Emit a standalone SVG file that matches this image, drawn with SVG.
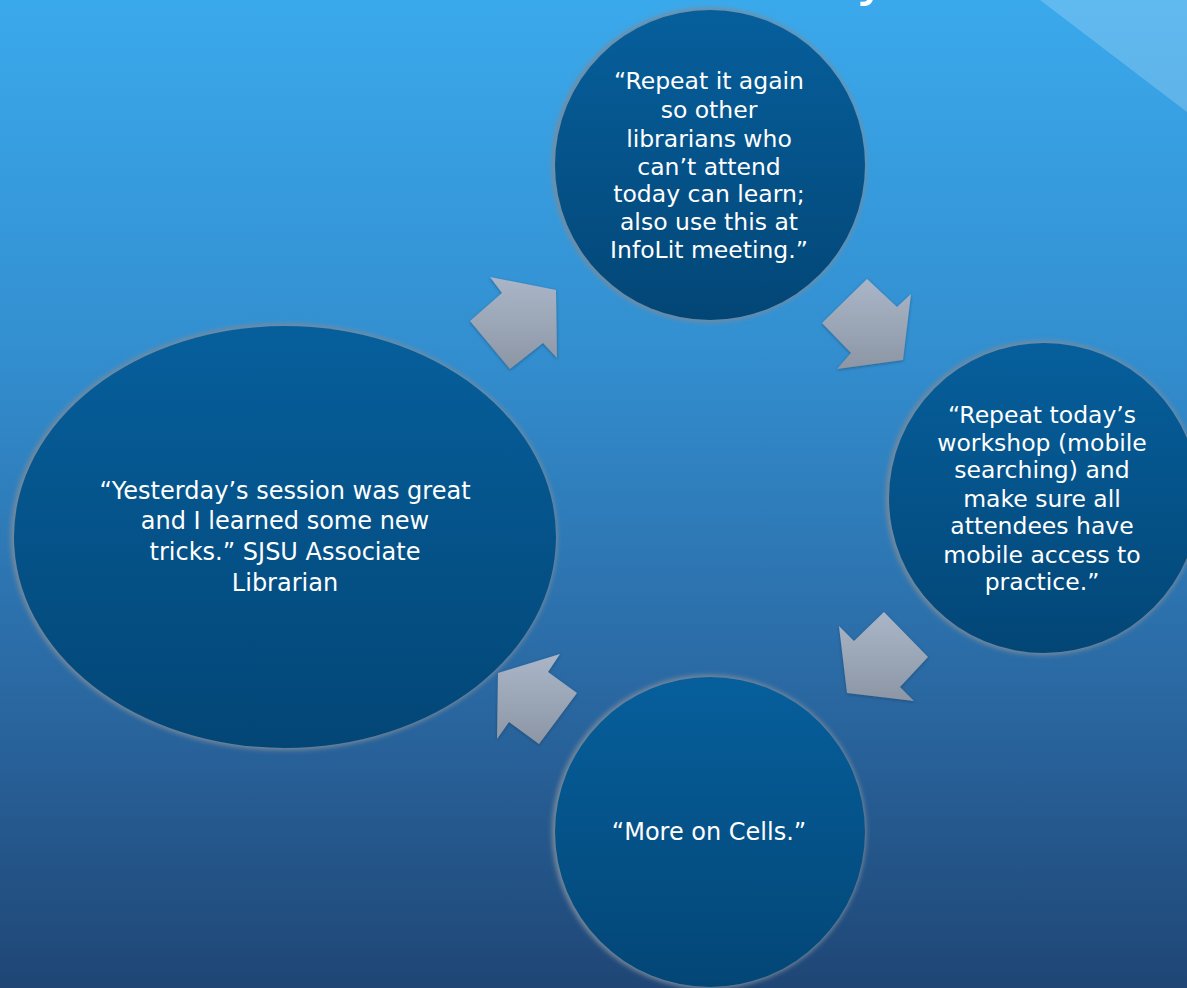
<svg xmlns="http://www.w3.org/2000/svg" width="1187" height="988" viewBox="0 0 1187 988">
<style>
.t{font-family:"DejaVu Sans","Noto Sans",sans-serif;fill:#ffffff;text-anchor:middle}
.s22{font-size:23.5px}
.s24{font-size:24px}
.arrow{filter:url(#ash)}
</style>
<defs>
<linearGradient id="bg" x1="0" y1="0" x2="0" y2="1">
<stop offset="0" stop-color="#3aa9ec"/>
<stop offset="0.35" stop-color="#338fd0"/>
<stop offset="0.7" stop-color="#2a68a2"/>
<stop offset="1" stop-color="#1f4675"/>
</linearGradient>
<linearGradient id="nodeFill" x1="0" y1="0" x2="0" y2="1">
<stop offset="0" stop-color="#065f9c"/>
<stop offset="1" stop-color="#034676"/>
</linearGradient>
<linearGradient id="arrowFill" x1="0" y1="0" x2="0" y2="1">
<stop offset="0" stop-color="#aab6c8"/>
<stop offset="1" stop-color="#8c96a5"/>
</linearGradient>
<filter id="rim" x="-10%" y="-10%" width="120%" height="120%">
<feGaussianBlur stdDeviation="2.5"/>
</filter>
<filter id="ash" x="-20%" y="-20%" width="140%" height="140%">
<feGaussianBlur in="SourceAlpha" stdDeviation="1.5"/>
<feOffset dx="0" dy="1" result="b"/>
<feFlood flood-color="#1a3550" flood-opacity="0.5"/>
<feComposite in2="b" operator="in" result="sh"/>
<feMerge><feMergeNode in="sh"/><feMergeNode in="SourceGraphic"/></feMerge>
</filter>
</defs>
<rect x="0" y="0" width="1187" height="988" fill="url(#bg)"/>
<polygon points="1040,0 1187,0 1187,112" fill="#ffffff" fill-opacity="0.2"/>
<text x="856" y="-6" font-family="DejaVu Sans, sans-serif" font-size="56" fill="#ffffff">y</text>

<g id="connectors">
<polygon class="arrow" fill="url(#arrowFill)" points="490,277 556,290 557,358 543,343 510,369 470,321 502,293"/>
<polygon class="arrow" fill="url(#arrowFill)" points="867,279 897,307 911,294 903,360 837,369 851,353 822,323"/>
<polygon class="arrow" fill="url(#arrowFill)" points="884,612 928,657 900,687 914,701 847,693 839,626 854,641"/>
<polygon class="arrow" fill="url(#arrowFill)" points="560,654 548,672 577,693 539,744 509,722 497,739 498,673"/>
</g>

<g id="node-left">
<ellipse cx="284" cy="537" rx="273" ry="213" fill="#7a8a9a" filter="url(#rim)"/>
<ellipse cx="285" cy="537" rx="271" ry="211" fill="url(#nodeFill)"/>
<text class="t s24" x="285" y="499">“Yesterday’s session was great</text>
<text class="t s24" x="285" y="529">and I learned some new</text>
<text class="t s24" x="285" y="560">tricks.” SJSU Associate</text>
<text class="t s24" x="285" y="591">Librarian</text>
</g>

<g id="node-top">
<circle cx="709" cy="165" r="157" fill="#7a8a9a" filter="url(#rim)"/>
<circle cx="710" cy="165" r="155" fill="url(#nodeFill)"/>
<text class="t s22" x="709" y="89">“Repeat it again</text>
<text class="t s22" x="709" y="118">so other</text>
<text class="t s22" x="709" y="147">librarians who</text>
<text class="t s22" x="709" y="175">can’t attend</text>
<text class="t s22" x="709" y="202">today can learn;</text>
<text class="t s22" x="709" y="230">also use this at</text>
<text class="t s22" x="709" y="258">InfoLit meeting.”</text>
</g>

<g id="node-right">
<circle cx="1043" cy="498" r="157" fill="#7a8a9a" filter="url(#rim)"/>
<circle cx="1044" cy="498" r="155" fill="url(#nodeFill)"/>
<text class="t s22" x="1042" y="423">“Repeat today’s</text>
<text class="t s22" x="1042" y="451">workshop (mobile</text>
<text class="t s22" x="1042" y="478">searching) and</text>
<text class="t s22" x="1042" y="507">make sure all</text>
<text class="t s22" x="1042" y="534">attendees have</text>
<text class="t s22" x="1042" y="563">mobile access to</text>
<text class="t s22" x="1042" y="590">practice.”</text>
</g>

<g id="node-bottom">
<circle cx="709" cy="832" r="157" fill="#7a8a9a" filter="url(#rim)"/>
<circle cx="710" cy="832" r="155" fill="url(#nodeFill)"/>
<text class="t s24" x="709" y="840">“More on Cells.”</text>
</g>
</svg>
